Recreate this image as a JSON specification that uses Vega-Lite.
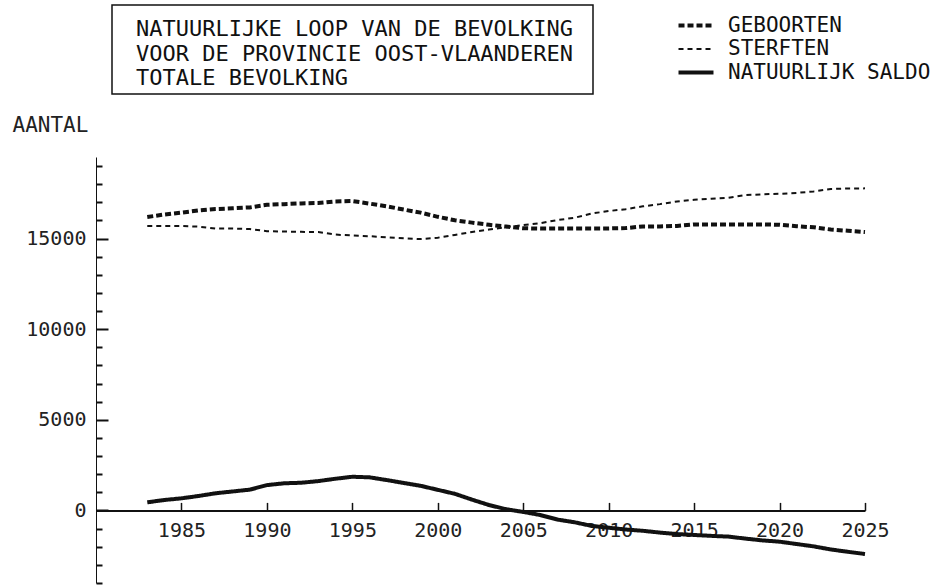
{
  "$schema": "https://vega.github.io/schema/vega-lite/v6.json",
  "autosize": {"type": "pad"},
  "padding": {"left": 12, "top": 4, "right": 0, "bottom": 0},
  "background": "white",
  "spacing": 19,
  "config": {
    "font": "DejaVu Sans Mono",
    "view": {"stroke": null}
  },
  "datasets": {
    "bev": [
      {"jaar": 1983, "GEBOORTEN": 16190, "STERFTEN": 15690, "NATUURLIJK SALDO": 450},
      {"jaar": 1984, "GEBOORTEN": 16330, "STERFTEN": 15690, "NATUURLIJK SALDO": 580},
      {"jaar": 1985, "GEBOORTEN": 16430, "STERFTEN": 15690, "NATUURLIJK SALDO": 670},
      {"jaar": 1986, "GEBOORTEN": 16550, "STERFTEN": 15660, "NATUURLIJK SALDO": 800},
      {"jaar": 1987, "GEBOORTEN": 16630, "STERFTEN": 15550, "NATUURLIJK SALDO": 950},
      {"jaar": 1988, "GEBOORTEN": 16670, "STERFTEN": 15550, "NATUURLIJK SALDO": 1050},
      {"jaar": 1989, "GEBOORTEN": 16720, "STERFTEN": 15530, "NATUURLIJK SALDO": 1150},
      {"jaar": 1990, "GEBOORTEN": 16860, "STERFTEN": 15410, "NATUURLIJK SALDO": 1400},
      {"jaar": 1991, "GEBOORTEN": 16900, "STERFTEN": 15390, "NATUURLIJK SALDO": 1500},
      {"jaar": 1992, "GEBOORTEN": 16940, "STERFTEN": 15370, "NATUURLIJK SALDO": 1530},
      {"jaar": 1993, "GEBOORTEN": 16960, "STERFTEN": 15360, "NATUURLIJK SALDO": 1620},
      {"jaar": 1994, "GEBOORTEN": 17050, "STERFTEN": 15220, "NATUURLIJK SALDO": 1750},
      {"jaar": 1995, "GEBOORTEN": 17070, "STERFTEN": 15170, "NATUURLIJK SALDO": 1860},
      {"jaar": 1996, "GEBOORTEN": 16930, "STERFTEN": 15130, "NATUURLIJK SALDO": 1830},
      {"jaar": 1997, "GEBOORTEN": 16780, "STERFTEN": 15070, "NATUURLIJK SALDO": 1680},
      {"jaar": 1998, "GEBOORTEN": 16600, "STERFTEN": 15020, "NATUURLIJK SALDO": 1520},
      {"jaar": 1999, "GEBOORTEN": 16430, "STERFTEN": 14970, "NATUURLIJK SALDO": 1360},
      {"jaar": 2000, "GEBOORTEN": 16200, "STERFTEN": 15050, "NATUURLIJK SALDO": 1140},
      {"jaar": 2001, "GEBOORTEN": 16010, "STERFTEN": 15200, "NATUURLIJK SALDO": 920},
      {"jaar": 2002, "GEBOORTEN": 15880, "STERFTEN": 15360, "NATUURLIJK SALDO": 600},
      {"jaar": 2003, "GEBOORTEN": 15760, "STERFTEN": 15500, "NATUURLIJK SALDO": 300},
      {"jaar": 2004, "GEBOORTEN": 15660, "STERFTEN": 15630, "NATUURLIJK SALDO": 70},
      {"jaar": 2005, "GEBOORTEN": 15570, "STERFTEN": 15740, "NATUURLIJK SALDO": -80},
      {"jaar": 2006, "GEBOORTEN": 15550, "STERFTEN": 15850, "NATUURLIJK SALDO": -250},
      {"jaar": 2007, "GEBOORTEN": 15550, "STERFTEN": 16020, "NATUURLIJK SALDO": -500},
      {"jaar": 2008, "GEBOORTEN": 15550, "STERFTEN": 16150, "NATUURLIJK SALDO": -650},
      {"jaar": 2009, "GEBOORTEN": 15550, "STERFTEN": 16380, "NATUURLIJK SALDO": -850},
      {"jaar": 2010, "GEBOORTEN": 15560, "STERFTEN": 16520, "NATUURLIJK SALDO": -950},
      {"jaar": 2011, "GEBOORTEN": 15580, "STERFTEN": 16620, "NATUURLIJK SALDO": -1050},
      {"jaar": 2012, "GEBOORTEN": 15670, "STERFTEN": 16780, "NATUURLIJK SALDO": -1120},
      {"jaar": 2013, "GEBOORTEN": 15670, "STERFTEN": 16900, "NATUURLIJK SALDO": -1220},
      {"jaar": 2014, "GEBOORTEN": 15700, "STERFTEN": 17050, "NATUURLIJK SALDO": -1300},
      {"jaar": 2015, "GEBOORTEN": 15780, "STERFTEN": 17140, "NATUURLIJK SALDO": -1350},
      {"jaar": 2016, "GEBOORTEN": 15780, "STERFTEN": 17200, "NATUURLIJK SALDO": -1400},
      {"jaar": 2017, "GEBOORTEN": 15780, "STERFTEN": 17250, "NATUURLIJK SALDO": -1440},
      {"jaar": 2018, "GEBOORTEN": 15780, "STERFTEN": 17400, "NATUURLIJK SALDO": -1550},
      {"jaar": 2019, "GEBOORTEN": 15780, "STERFTEN": 17440, "NATUURLIJK SALDO": -1650},
      {"jaar": 2020, "GEBOORTEN": 15760, "STERFTEN": 17470, "NATUURLIJK SALDO": -1720},
      {"jaar": 2021, "GEBOORTEN": 15680, "STERFTEN": 17520, "NATUURLIJK SALDO": -1850},
      {"jaar": 2022, "GEBOORTEN": 15620, "STERFTEN": 17600, "NATUURLIJK SALDO": -1980},
      {"jaar": 2023, "GEBOORTEN": 15500, "STERFTEN": 17740, "NATUURLIJK SALDO": -2150},
      {"jaar": 2024, "GEBOORTEN": 15430, "STERFTEN": 17760, "NATUURLIJK SALDO": -2280},
      {"jaar": 2025, "GEBOORTEN": 15360, "STERFTEN": 17770, "NATUURLIJK SALDO": -2400}
    ]
  },
  "vconcat": [
    {
      "spacing": 14,
      "hconcat": [
        {
          "width": 1,
          "height": 89,
          "data": {"values": [{}]},
          "mark": {"type": "point", "opacity": 0, "size": 0},
          "encoding": {}
        },
        {
          "width": 481,
          "height": 89,
          "view": {"stroke": "#111", "strokeWidth": 1.5},
          "data": {"values": [
            {"regel": 1, "tekst": "NATUURLIJKE LOOP VAN DE BEVOLKING"},
            {"regel": 2, "tekst": "VOOR DE PROVINCIE OOST-VLAANDEREN"},
            {"regel": 3, "tekst": "TOTALE BEVOLKING"}
          ]},
          "mark": {"type": "text", "align": "left", "baseline": "middle", "dx": 24, "dy": 4, "fontSize": 22, "font": "DejaVu Sans Mono", "color": "#111"},
          "encoding": {
            "y": {"field": "regel", "type": "ordinal", "axis": null, "scale": {"type": "point", "padding": 0.8}},
            "x": {"datum": 0, "type": "quantitative", "scale": {"domain": [0, 1]}, "axis": null},
            "text": {"field": "tekst"}
          }
        }
      ]
    },
    {
      "width": 769,
      "height": 426,
      "data": {"name": "bev"},
      "transform": [{"fold": ["GEBOORTEN", "STERFTEN", "NATUURLIJK SALDO"], "as": ["reeks", "aantal"]}],
      "mark": {"type": "line", "color": "#111", "clip": false},
      "encoding": {
        "x": {
          "field": "jaar", "type": "quantitative",
          "scale": {"domain": [1980, 2025], "nice": false, "zero": false},
          "axis": {
            "values": [1985, 1990, 1995, 2000, 2005, 2010, 2015, 2020, 2025],
            "format": "d", "title": null, "grid": false,
            "tickSize": -8, "tickWidth": 1.5, "tickColor": "#111",
            "offset": -72.6, "domainWidth": 2, "domainColor": "#111",
            "labelPadding": 18.5, "labelFontSize": 20, "labelColor": "#222",
            "labelFont": "DejaVu Sans Mono", "labelFlush": false, "labelOverlap": false
          }
        },
        "y": {
          "field": "aantal", "type": "quantitative",
          "scale": {"domain": [-4000, 19500], "nice": false, "zero": false},
          "axis": {
            "values": [-4000, -3000, -2000, -1000, 0, 1000, 2000, 3000, 4000, 5000, 6000, 7000, 8000, 9000, 10000, 11000, 12000, 13000, 14000, 15000, 16000, 17000, 18000, 19000],
            "format": "d",
            "labelExpr": "datum.value % 5000 === 0 ? datum.label : ''",
            "tickSize": {"condition": {"test": "datum.value % 5000 === 0", "value": -12}, "value": -6},
            "tickWidth": 2, "tickColor": "#111",
            "domainColor": "#111", "domainWidth": 1,
            "labelFontSize": 20, "labelColor": "#222", "labelFont": "DejaVu Sans Mono",
            "labelPadding": 22, "labelOverlap": false, "labelBound": false,
            "grid": false,
            "title": "AANTAL", "titleAngle": 0, "titleAlign": "left", "titleBaseline": "alphabetic",
            "titleX": -84, "titleY": -26, "titleFontSize": 21, "titleFontWeight": "normal",
            "titleFont": "DejaVu Sans Mono", "titleColor": "#222"
          }
        },
        "strokeDash": {
          "field": "reeks", "type": "nominal",
          "scale": {"domain": ["GEBOORTEN", "STERFTEN", "NATUURLIJK SALDO"], "range": [[6, 3], [5, 4], [1, 0]]},
          "legend": {
            "title": null, "orient": "none", "legendX": 589, "legendY": 9.5,
            "symbolType": "M-2,0H2", "symbolSize": 306, "symbolStrokeColor": "#111",
            "labelFont": "DejaVu Sans Mono", "labelFontSize": 21, "labelColor": "#111",
            "labelOffset": 21, "rowPadding": 2, "labelLimit": 400
          }
        },
        "strokeWidth": {
          "field": "reeks", "type": "nominal",
          "scale": {"type": "ordinal", "domain": ["GEBOORTEN", "STERFTEN", "NATUURLIJK SALDO"], "range": [4, 2, 4]},
          "legend": {
            "title": null, "orient": "none", "legendX": 589, "legendY": 9.5,
            "symbolType": "M-2,0H2", "symbolSize": 306, "symbolStrokeColor": "#111",
            "labelFont": "DejaVu Sans Mono", "labelFontSize": 21, "labelColor": "#111",
            "labelOffset": 21, "rowPadding": 2, "labelLimit": 400
          }
        }
      }
    }
  ]
}
